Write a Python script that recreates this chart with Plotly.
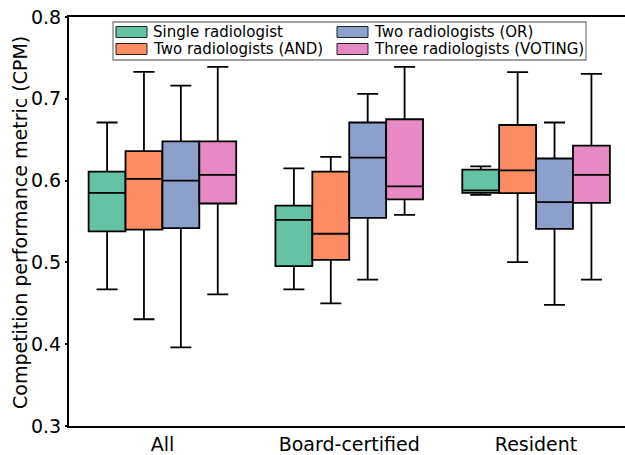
import plotly.graph_objects as go

categories = ["All", "Board-certified", "Resident"]
series_names = ["Single radiologist", "Two radiologists (AND)",
                "Two radiologists (OR)", "Three radiologists (VOTING)"]
colors = ["#66c2a5", "#fc8d62", "#8da0cb", "#e78ac3"]

# box statistics per series, ordered as categories
lower_single = [0.467, 0.467, 0.5825]
q1_single = [0.538, 0.4955, 0.585]
med_single = [0.585, 0.552, 0.588]
q3_single = [0.611, 0.5695, 0.6134]
upper_single = [0.671, 0.615, 0.6175]

lower_and = [0.4305, 0.450, 0.5004]
q1_and = [0.540, 0.503, 0.5846]
med_and = [0.602, 0.535, 0.6126]
q3_and = [0.636, 0.611, 0.668]
upper_and = [0.733, 0.629, 0.7325]

lower_or = [0.396, 0.479, 0.448]
q1_or = [0.542, 0.5545, 0.541]
med_or = [0.600, 0.628, 0.5736]
q3_or = [0.648, 0.671, 0.627]
upper_or = [0.716, 0.706, 0.671]

lower_vot = [0.461, 0.558, 0.479]
q1_vot = [0.572, 0.577, 0.5728]
med_vot = [0.607, 0.593, 0.607]
q3_vot = [0.648, 0.675, 0.6427]
upper_vot = [0.739, 0.739, 0.7305]

y_ticks = [0.3, 0.4, 0.5, 0.6, 0.7, 0.8]
y_title = "Competition performance metric (CPM)"

stats = [
    (lower_single, q1_single, med_single, q3_single, upper_single),
    (lower_and, q1_and, med_and, q3_and, upper_and),
    (lower_or, q1_or, med_or, q3_or, upper_or),
    (lower_vot, q1_vot, med_vot, q3_vot, upper_vot),
]

FONT = "DejaVu Sans"
W, H = 625, 455
L, R, T, B = 69, 0, 17, 29
PW = W - L - R
PH = H - T - B

fig = go.Figure()
for name, col, (lo, q1, md, q3, hi) in zip(series_names, colors, stats):
    fig.add_trace(go.Box(
        name=name, x=categories, lowerfence=lo, q1=q1, median=md, q3=q3,
        upperfence=hi, fillcolor=col, line=dict(color="black", width=1.8),
        whiskerwidth=0.57, boxpoints=False, showlegend=False, offsetgroup=name,
    ))

# screen pixel -> paper coords
def px_x(p):
    return (p - L) / PW

def px_y(p):
    return (H - B - p) / PH

shapes = []
annotations = []
# legend frame
shapes.append(dict(type="rect", xref="paper", yref="paper",
                   x0=px_x(113), x1=px_x(586), y0=px_y(60), y1=px_y(22),
                   line=dict(color="#7f7f7f", width=1.3), fillcolor="white",
                   layer="below"))
legend_pos = [(116, 32), (116, 49), (337, 32), (337, 49)]
for name, col, (lx, ly) in zip(series_names, colors, legend_pos):
    shapes.append(dict(type="rect", xref="paper", yref="paper",
                       x0=px_x(lx), x1=px_x(lx + 31), y0=px_y(ly + 5.5), y1=px_y(ly - 5.5),
                       line=dict(color="#222222", width=1), fillcolor=col, layer="above"))
    annotations.append(dict(text=name, xref="paper", yref="paper",
                            x=px_x(lx + 35), y=px_y(ly), xanchor="left", yanchor="middle",
                            showarrow=False, font=dict(family=FONT, size=15, color="black")))

# y-axis title
annotations.append(dict(text=y_title, xref="paper", yref="paper",
                        x=px_x(20), y=px_y(223), xanchor="center", yanchor="middle",
                        textangle=-90, showarrow=False,
                        font=dict(family=FONT, size=19, color="black")))

fig.update_layout(
    width=W, height=H,
    margin=dict(l=L, r=R, t=T, b=B, pad=0),
    paper_bgcolor="white", plot_bgcolor="white",
    boxmode="group", boxgap=0.21, boxgroupgap=0,
    font=dict(family=FONT, size=19, color="black"),
    shapes=shapes, annotations=annotations,
    showlegend=False,
)
fig.update_xaxes(
    range=[-0.5, 2.476], showline=True, linecolor="black", linewidth=2,
    mirror=True, ticks="", showgrid=False, zeroline=False,
    tickfont=dict(family=FONT, size=19, color="black"),
)
fig.update_yaxes(
    range=[0.3, 0.8], tickvals=y_ticks, tickformat=".1f",
    showline=True, linecolor="black", linewidth=2, mirror=False,
    ticks="outside", ticklen=2, tickwidth=1.5, tickcolor="black",
    showgrid=False, zeroline=False, ticklabeloverflow="allow",
    tickfont=dict(family=FONT, size=19, color="black"),
)

fig.write_html(
    "out.html",
    config={"displayModeBar": False},
    post_script="document.body.style.margin='0';",
)
